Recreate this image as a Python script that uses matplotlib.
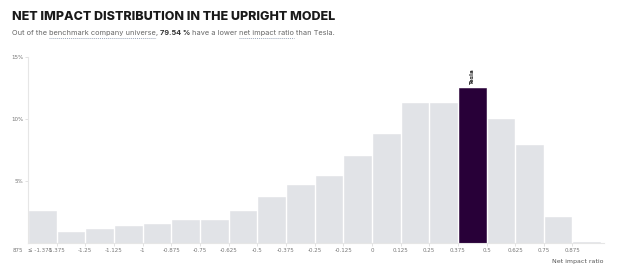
import numpy as np
import matplotlib.pyplot as plt

# distribution of net impact ratio (share of companies, %)
edge_labels = ["-1.375", "-1.25", "-1.125", "-1", "-0.875", "-0.75", "-0.625",
               "-0.5", "-0.375", "-0.25", "-0.125", "0", "0.125", "0.25",
               "0.375", "0.5", "0.625", "0.75", "0.875"]
shares = [2.6, 0.91, 1.09, 1.39, 1.53, 1.87, 1.85, 2.6, 3.75, 4.66, 5.39,
          6.99, 8.76, 11.28, 11.33, 12.54, 9.99, 7.93, 2.09, 0.05]
tesla_bin = 15
y_ticks = [5, 10, 15]

grey_bar = "#e1e3e7"
tesla_col = "#280038"
txt_grey = "#777777"

fig = plt.figure(figsize=(6.24, 2.72), dpi=100)
ax = fig.add_axes([28 / 624, 29 / 272, 576 / 624, 186 / 272])

x = np.arange(len(shares)) + 0.5
cols = [tesla_col if i == tesla_bin else grey_bar for i in range(len(shares))]
ax.bar(x, shares, width=0.93, color=cols, edgecolor=cols, linewidth=0.4)

ax.text(x[tesla_bin], shares[tesla_bin] + 0.3, "Tesla", rotation=90,
        ha="center", va="bottom", fontsize=4, fontweight="bold", color="#222222")

ax.set_xlim(0, len(shares) + 0.1)
ax.set_ylim(0, 15)
ax.set_yticks(y_ticks)
ax.set_yticklabels([f"{v}%" for v in y_ticks])
ax.set_xticks(np.arange(1, len(edge_labels) + 1))
ax.set_xticklabels(edge_labels)
ax.tick_params(axis="both", labelsize=4, colors="#dddddd", labelcolor=txt_grey,
               length=2, width=0.6, pad=1.5)

# leftmost labels that sit at the open-ended bin
for xv, s in [(0.42, "≤ -1.375"), (-0.35, "875")]:
    ax.annotate(s, xy=(xv, 0), xycoords=("data", "axes fraction"),
                xytext=(0, -3.5), textcoords="offset points", ha="center",
                va="top", fontsize=4, color=txt_grey, annotation_clip=False)

for s in ["top", "right"]:
    ax.spines[s].set_visible(False)
ax.spines["left"].set_color("#e6e6e6")
ax.spines["bottom"].set_color("#e6e6e6")
ax.spines["left"].set_linewidth(0.8)
ax.spines["bottom"].set_linewidth(0.8)

ax.text(1.0, -0.102, "Net impact ratio", transform=ax.transAxes, ha="right",
        va="center", fontsize=4.5, color="#555555")

fig.text(12 / 624, 1 - 20 / 272, "NET IMPACT DISTRIBUTION IN THE UPRIGHT MODEL",
         fontsize=9, fontweight="heavy", color="#1a1a1a", family="Inter")

# subtitle built piece by piece, gap = space after the piece
parts = [("Out of the", "normal", "#666666", False, True),
         ("benchmark company universe", "normal", "#666666", True, False),
         (",", "normal", "#666666", False, True),
         ("79.54 %", "bold", "#333333", False, True),
         ("have a lower", "normal", "#666666", False, True),
         ("net impact ratio", "normal", "#666666", True, True),
         ("than Tesla.", "normal", "#666666", False, False)]
fig.canvas.draw()
r = fig.canvas.get_renderer()
xpos = 12
ybase = 272 - 35
for s, w, c, dot, gap in parts:
    t = fig.text(xpos / 624, ybase / 272, s, fontsize=5.3, fontweight=w, color=c,
                 family="Inter")
    bb = t.get_window_extent(r)
    if dot:
        fig.add_artist(plt.Line2D([bb.x0 / 624, bb.x1 / 624],
                                  [(ybase - 2.5) / 272, (ybase - 2.5) / 272],
                                  transform=fig.transFigure, color="#9aa6b8",
                                  linewidth=0.7, linestyle=(0, (1, 1))))
    xpos = bb.x1 + (2.0 if gap else 0)

fig.savefig("out.png", dpi=100)
